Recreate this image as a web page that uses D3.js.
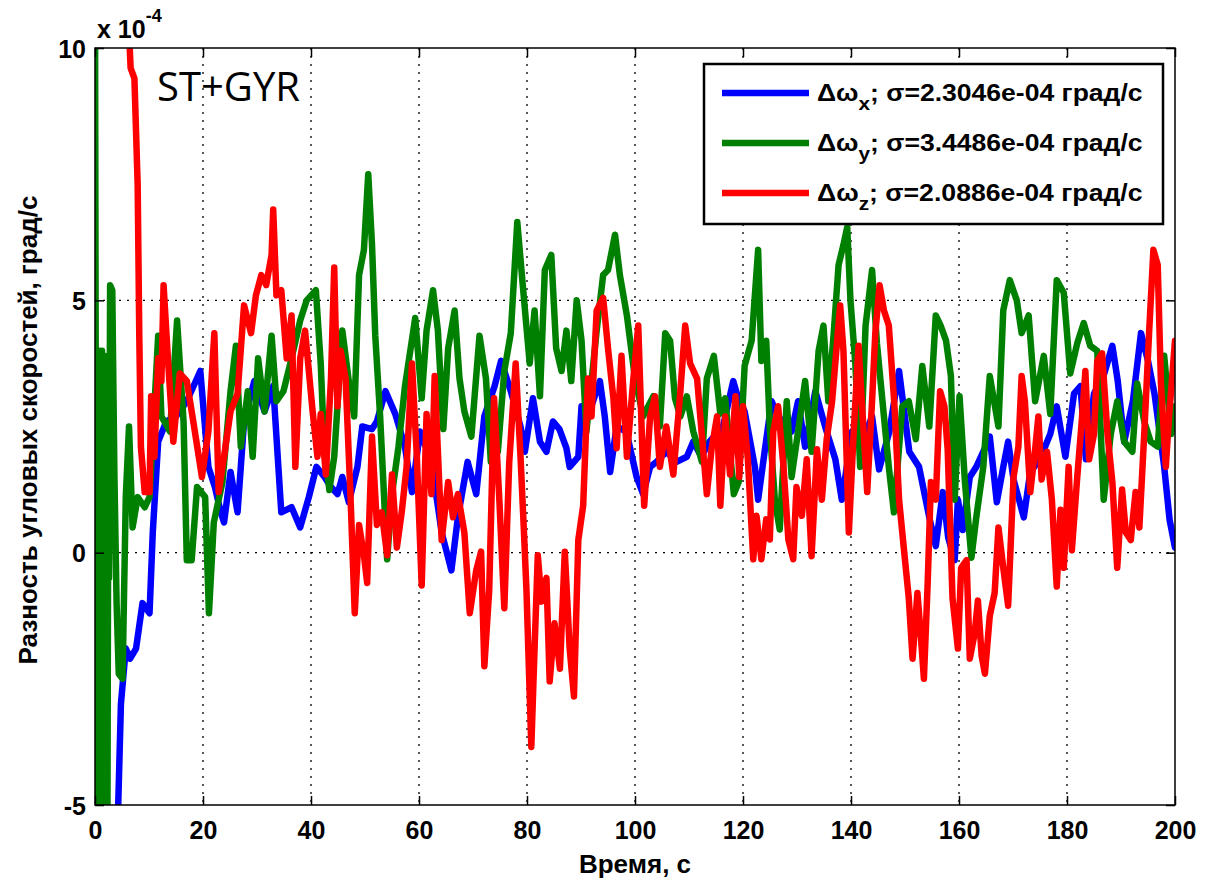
<!DOCTYPE html>
<html>
<head>
<meta charset="utf-8">
<script src="https://cdn.jsdelivr.net/npm/d3@7"></script>
<style>
  html, body { margin: 0; padding: 0; background: #fff; }
  svg { display: block; }
</style>
</head>
<body>
<svg id="chart" width="1205" height="881"></svg>
<script>
// ---------------- DATA (values in units of 1e-4 град/с) ----------------
const xTicks = [0, 20, 40, 60, 80, 100, 120, 140, 160, 180, 200];
const yTicks = [-5, 0, 5, 10];
const seriesNames = ["x", "y", "z"];
const seriesSigma = ["2.3046e-04", "3.4486e-04", "2.0886e-04"];
const seriesColors = ["#0000ff", "#008000", "#ff0000"];

const timeX = [4.0,4.3,4.8,5.7,6.5,7.6,8.8,10.1,10.7,11.7,13.2,15.0,17.0,19.5,21.0,22.2,23.3,23.9,25.1,26.4,27.6,29.5,31.4,33.0,34.5,36.4,38.0,39.6,41.0,42.5,43.7,44.9,45.8,47.0,48.6,49.5,51.3,52.2,53.8,55.6,57.4,58.7,60.2,62.3,64.2,66.0,67.2,69.0,70.6,72.1,74.0,75.2,77.0,78.8,79.6,81.1,82.4,83.6,84.8,86.0,87.3,87.9,89.5,90.1,91.6,93.5,94.4,95.4,96.6,98.4,100.3,101.5,102.8,104.0,105.8,107.7,109.6,110.8,112.3,113.8,116.3,118.2,119.0,120.3,122.2,122.8,124.0,125.3,126.5,129.0,130.2,131.5,133.4,135.2,137.1,138.3,140.2,142.1,143.9,145.2,147.1,148.9,150.8,152.6,154.5,155.7,157.0,158.0,159.2,159.8,160.7,162.0,163.2,164.5,165.7,167.0,168.2,169.1,170.1,172.0,173.2,175.0,176.9,178.1,179.7,181.3,182.5,183.5,185.0,186.9,188.4,189.4,190.6,192.2,193.7,195.0,196.2,198.0,199.0,200.0];
const valX  = [-5.5,-5.0,-3.0,-1.9,-2.1,-1.9,-1.0,-1.2,0.4,2.2,2.6,2.7,3.0,3.6,1.7,1.3,0.8,0.6,1.6,0.8,2.6,3.4,2.8,3.3,0.8,0.9,0.5,1.1,1.7,1.5,1.3,1.16,1.5,1.0,1.7,2.5,2.45,2.6,3.2,2.75,2.1,1.2,2.4,1.8,0.4,-0.35,0.7,1.8,1.16,2.7,3.3,3.8,3.2,2.5,2.0,3.06,2.2,2.0,2.6,2.45,2.07,1.7,1.9,2.9,2.8,3.4,2.7,1.6,2.5,2.4,1.5,1.16,1.7,1.8,2.0,1.8,1.9,2.2,1.9,2.2,2.5,3.4,3.1,2.8,1.7,1.05,2.0,3.0,2.7,2.4,3.0,2.1,3.2,2.5,1.85,1.05,2.4,2.2,2.7,1.65,2.4,3.6,2.0,1.7,0.7,0.13,1.2,0.3,-0.15,1.05,0.45,1.5,1.7,2.0,2.3,1.0,1.7,2.2,1.45,0.7,1.6,1.85,2.35,2.9,1.9,3.15,3.3,1.85,3.15,3.55,4.1,3.4,2.2,3.0,4.35,3.8,3.15,1.7,0.65,0.1];

const timeY = [0.0,0.3,0.5,0.7,0.9,1.1,1.3,1.5,1.7,1.9,2.1,2.3,2.5,2.6,2.8,3.2,3.6,4.0,4.4,5.1,5.7,6.3,6.96,7.9,9.2,10.1,11.0,11.7,12.3,13.9,15.2,16.4,17.0,17.9,18.9,20.4,21.1,22.0,23.6,25.1,26.1,27.0,28.3,29.2,30.2,31.4,32.7,33.6,34.9,36.4,38.0,39.2,40.9,41.8,42.4,43.4,44.3,45.8,47.0,48.0,48.9,49.8,50.6,51.3,51.9,52.8,54.1,55.0,56.2,57.4,59.3,60.5,61.4,62.6,63.5,64.5,65.4,66.6,67.5,68.4,69.7,71.2,72.4,73.3,74.6,75.8,77.0,78.2,79.3,80.5,81.4,82.4,83.3,84.5,85.4,86.4,87.3,88.2,89.2,90.1,91.0,92.9,94.1,95.0,96.3,97.2,98.5,100.0,101.5,103.4,104.6,105.6,106.5,107.4,108.4,109.6,110.8,112.4,113.3,114.6,115.8,116.7,118.3,119.2,120.3,121.6,122.8,123.4,124.3,125.0,125.9,126.8,128.1,129.0,130.2,131.5,132.7,134.0,134.9,135.8,136.8,137.7,138.6,139.3,139.9,140.8,141.7,142.7,143.9,144.8,146.1,147.0,147.95,149.5,150.7,152.0,153.2,154.5,155.7,156.6,157.6,158.5,159.2,160.1,161.1,162.3,163.2,164.5,165.7,167.3,168.2,169.4,170.7,171.6,172.9,174.1,175.7,176.9,178.1,179.4,180.6,181.9,183.1,184.3,185.6,186.8,188.1,189.3,190.6,192.1,193.0,194.3,195.5,196.8,198.0,199.3,200.0];
const valY  = [11,-5.5,4.0,-5.5,4.0,-5.5,4.0,-5.5,3.9,-5.5,3.8,-5.5,3.5,-0.5,5.3,5.2,1.5,-1.0,-2.4,-2.5,1.1,2.5,0.5,1.1,0.9,1.1,2.9,4.3,2.7,2.4,4.6,2.6,-0.15,-0.15,1.3,1.1,-1.2,0.6,1.4,3.2,4.1,2.1,3.2,1.9,3.85,2.8,4.3,3.0,3.2,3.85,4.6,5.0,5.2,3.75,2.2,1.24,1.9,4.4,3.4,2.7,5.5,6.0,7.5,6.1,4.3,2.7,-0.13,1.16,2.1,3.3,4.65,3.06,4.4,5.2,4.4,2.45,4.05,4.8,3.45,2.8,2.3,4.3,3.45,1.8,2.0,3.6,4.35,6.55,5.2,3.75,4.8,3.1,5.6,5.9,4.05,3.6,4.4,3.4,5.0,4.2,2.4,4.4,5.5,5.6,6.3,5.5,4.7,3.45,2.7,3.1,2.5,4.35,4.2,3.06,2.7,3.1,2.4,1.8,3.45,3.9,2.75,3.06,1.16,1.4,3.7,4.2,6.0,3.8,4.2,2.4,1.05,0.46,3.0,1.5,2.4,3.4,2.0,4.0,4.5,3.0,4.35,5.7,6.1,6.45,5.0,3.75,1.7,4.5,5.6,4.15,2.7,1.7,0.8,2.9,3.0,2.25,3.7,2.5,4.7,4.5,4.2,3.5,1.05,3.1,1.4,-0.1,0.7,1.7,3.5,2.5,4.8,5.4,5.0,4.35,4.7,3.0,3.9,2.75,5.4,5.15,3.55,4.15,4.55,4.1,4.0,1.05,2.35,3.0,2.2,2.0,3.35,2.6,2.2,2.1,3.9,2.35,2.9];

const timeZ = [6.0,6.6,7.3,7.9,8.2,8.5,9.2,10.1,10.4,11.0,11.7,12.3,12.7,13.5,14.5,15.7,17.0,18.2,19.8,21.0,22.1,22.9,23.9,25.1,26.4,27.6,28.9,29.8,30.8,31.7,32.7,33.0,33.6,34.5,35.5,36.4,37.1,38.0,38.9,39.6,40.3,41.2,41.8,42.75,43.7,44.3,44.9,45.5,46.4,47.3,48.1,48.9,49.8,50.4,51.3,52.2,53.1,54.1,55.0,55.9,56.8,57.7,58.7,59.6,60.5,61.4,62.3,62.9,64.2,65.4,66.3,67.2,68.4,69.4,70.6,71.5,72.1,73.0,73.9,74.9,75.8,76.7,77.9,78.8,79.4,79.9,80.8,81.4,82.0,82.7,83.6,84.2,85.1,86.1,87.0,87.9,88.7,89.5,90.4,91.3,91.95,92.9,94.1,95.0,96.0,96.6,97.5,98.5,99.7,100.6,101.7,102.8,103.7,104.6,105.8,107.1,108.4,109.3,110.2,111.5,112.4,113.3,114.2,115.2,115.8,116.7,117.6,118.6,119.3,120.0,120.9,121.9,122.5,123.4,124.3,124.97,125.6,126.5,127.5,128.4,129.3,129.9,130.9,131.8,132.7,133.7,134.6,135.5,136.5,137.4,138.0,138.6,139.6,140.5,141.4,142.0,143.0,143.9,144.5,145.3,146.1,147.0,148.0,148.9,149.8,150.7,151.4,152.3,152.9,153.5,154.2,154.8,155.7,156.5,157.3,157.9,158.8,159.8,160.4,161.4,162.0,162.9,163.5,164.2,164.8,165.7,166.6,167.3,168.2,169.1,170.1,171.0,171.6,172.2,173.2,174.1,174.7,175.3,176.3,177.2,178.1,178.8,179.4,180.3,180.9,181.9,182.8,183.4,184.1,185.0,185.6,186.5,187.5,188.4,189.3,190.2,190.9,191.8,192.7,193.4,194.3,195.2,196.0,196.8,197.4,198.3,198.9,200.0];
const valZ  = [11,9.6,9.4,7.3,4.3,2.1,1.2,1.2,3.1,1.9,3.85,3.4,5.3,3.85,2.2,3.55,3.4,2.6,1.5,2.4,4.35,1.2,1.9,2.8,3.15,4.9,4.35,5.1,5.5,5.3,5.9,6.8,5.1,5.2,3.85,4.7,1.7,3.85,4.4,3.6,2.8,1.9,2.75,1.55,3.45,5.65,2.9,4.0,3.45,1.16,-1.2,0.55,-0.05,-0.6,2.3,0.55,0.8,-0.05,1.55,0.1,0.8,1.7,3.75,1.9,-0.65,2.75,1.16,3.5,0.25,1.4,0.7,1.16,0.4,-1.2,-0.35,0.02,-2.25,-0.75,3.06,1.0,-1.1,1.77,3.75,1.9,0.5,-0.74,-3.85,-1.9,-0.05,-0.97,-0.5,-2.55,-1.4,-2.3,0.02,-1.9,-2.85,0.25,0.93,3.45,2.7,4.8,5.05,4.05,3.06,2.07,3.9,1.9,3.45,4.5,0.93,2.7,3.1,1.7,2.5,1.55,3.2,4.5,3.75,3.45,2.3,1.16,2.07,2.7,0.93,2.7,1.55,3.1,1.5,2.9,1.85,-0.13,0.73,-0.13,0.66,0.26,2.4,2.9,1.7,0.26,-0.13,1.3,0.73,1.85,-0.07,2.05,1.05,2.25,3.0,4.15,4.9,4.0,0.4,2.4,4.1,3.0,1.2,3.0,4.35,5.3,4.8,4.5,3.0,1.05,0.07,-0.9,-2.1,-0.8,-1.6,-2.5,-0.6,1.4,1.05,3.2,2.9,2.05,-0.9,-1.9,-0.3,-0.15,-2.1,-1.6,-0.95,-2.05,-2.4,-1.25,-0.8,0.5,-0.3,-1.05,1.5,2.1,3.5,3.0,1.2,2.05,2.7,1.45,2.0,1.05,-0.67,0.85,-0.3,1.7,0.05,1.5,2.7,3.6,1.85,2.35,3.8,3.95,2.35,1.4,-0.3,1.25,0.4,0.25,1.2,0.5,2.35,4.35,6.0,5.7,3.35,1.7,2.7,4.2];

// ---------------- LAYOUT ----------------
const svg = d3.select("#chart");
const M = { left: 95, right: 1175, top: 48, bottom: 805 };
const FONT = "'Liberation Sans', Arial, Helvetica, sans-serif";

const x = d3.scaleLinear().domain([0, 200]).range([M.left, M.right]);
const y = d3.scaleLinear().domain([-5, 10]).range([M.bottom, M.top]);

svg.append("rect").attr("width", 1205).attr("height", 881).attr("fill", "#fff");

// clip
svg.append("defs").append("clipPath").attr("id", "plotClip")
  .append("rect").attr("x", M.left).attr("y", M.top)
  .attr("width", M.right - M.left).attr("height", M.bottom - M.top);

// grid
const grid = svg.append("g").attr("stroke", "#000").attr("stroke-width", 1.3)
  .attr("stroke-dasharray", "2,6");
xTicks.filter(t => t > 0 && t < 200).forEach(t => {
  grid.append("line").attr("x1", x(t)).attr("x2", x(t)).attr("y1", M.top).attr("y2", M.bottom);
});
yTicks.filter(t => t > -5 && t < 10).forEach(t => {
  grid.append("line").attr("x1", M.left).attr("x2", M.right).attr("y1", y(t)).attr("y2", y(t));
});

// data lines
const seriesData = [
  d3.zip(timeX, valX),
  d3.zip(timeY, valY),
  d3.zip(timeZ, valZ)
];
const line = d3.line().x(d => x(d[0])).y(d => y(d[1]));
const plot = svg.append("g").attr("clip-path", "url(#plotClip)");
seriesData.forEach((d, i) => {
  plot.append("path").datum(d).attr("d", line)
    .attr("fill", "none").attr("stroke", seriesColors[i])
    .attr("stroke-width", 6.5).attr("stroke-linejoin", "round").attr("stroke-linecap", "round");
});

// axes box
svg.append("rect").attr("x", M.left).attr("y", M.top)
  .attr("width", M.right - M.left).attr("height", M.bottom - M.top)
  .attr("fill", "none").attr("stroke", "#000").attr("stroke-width", 1.5);

// axes with inward ticks
const TK = 9;
const xAxis = svg.append("g").attr("transform", `translate(0,${M.bottom})`)
  .call(d3.axisBottom(x).tickValues(xTicks).tickSize(-TK).tickPadding(16).tickFormat(d => String(d)));
const xAxisTop = svg.append("g").attr("transform", `translate(0,${M.top})`)
  .call(d3.axisTop(x).tickValues(xTicks).tickSize(-TK).tickFormat(""));
const yAxis = svg.append("g").attr("transform", `translate(${M.left},0)`)
  .call(d3.axisLeft(y).tickValues(yTicks).tickSize(-TK).tickPadding(9).tickFormat(d => String(d)));
const yAxisRight = svg.append("g").attr("transform", `translate(${M.right},0)`)
  .call(d3.axisRight(y).tickValues(yTicks).tickSize(-TK).tickFormat(""));
[xAxis, xAxisTop, yAxis, yAxisRight].forEach(a => {
  a.select(".domain").remove();
  a.selectAll(".tick line").attr("stroke", "#000").attr("stroke-width", 1.5);
  a.selectAll("text").attr("font-family", FONT).attr("font-size", 25)
    .attr("font-weight", "bold").attr("fill", "#000");
});
yAxis.selectAll("text").attr("dy", "0.36em");

// exponent label
const expo = svg.append("text").attr("x", 97).attr("y", 38)
  .attr("font-family", FONT).attr("font-size", 25).attr("font-weight", "bold");
expo.append("tspan").text("x 10");
expo.append("tspan").attr("dy", -16).attr("font-size", 18).text("-4");

// axis labels
svg.append("text").attr("x", x(100)).attr("y", 873).attr("text-anchor", "middle")
  .attr("font-family", FONT).attr("font-size", 26).attr("font-weight", "bold")
  .text("Время, с");
svg.append("text").attr("transform", "translate(37,430) rotate(-90)")
  .attr("text-anchor", "middle")
  .attr("font-family", FONT).attr("font-size", 26).attr("font-weight", "bold")
  .text("Разность угловых скоростей, град/с");

// annotation
svg.append("text").attr("x", 157).attr("y", 101)
  .attr("font-family", "'Open Sans', sans-serif").attr("font-size", 40)
  .text("ST+GYR");

// legend
const L = { x: 704, y: 64, w: 459, h: 160 };
const lg = svg.append("g");
lg.append("rect").attr("x", L.x).attr("y", L.y).attr("width", L.w).attr("height", L.h)
  .attr("fill", "#fff").attr("stroke", "#000").attr("stroke-width", 2.5);
const legendTextWidth = 326;
seriesNames.forEach((n, i) => {
  const cy = L.y + 29 + i * 50;
  lg.append("line").attr("x1", L.x + 18).attr("x2", L.x + 105)
    .attr("y1", cy).attr("y2", cy).attr("stroke", seriesColors[i]).attr("stroke-width", 6.5);
  const g = lg.append("g").attr("transform", `translate(${L.x + 113},${cy + 8})`);
  const t = g.append("text").attr("x", 0).attr("y", 0)
    .attr("font-family", FONT).attr("font-size", 23).attr("font-weight", "bold");
  t.append("tspan").text("Δω");
  t.append("tspan").attr("dy", 9).attr("font-size", 18).text(n);
  t.append("tspan").attr("dy", -9).text("; σ=" + seriesSigma[i] + " град/с");
  const w = t.node().getBBox().width;
  if (w > 0) g.attr("transform", `translate(${L.x + 113},${cy + 8}) scale(${legendTextWidth / w},1)`);
});
</script>
</body>
</html>
